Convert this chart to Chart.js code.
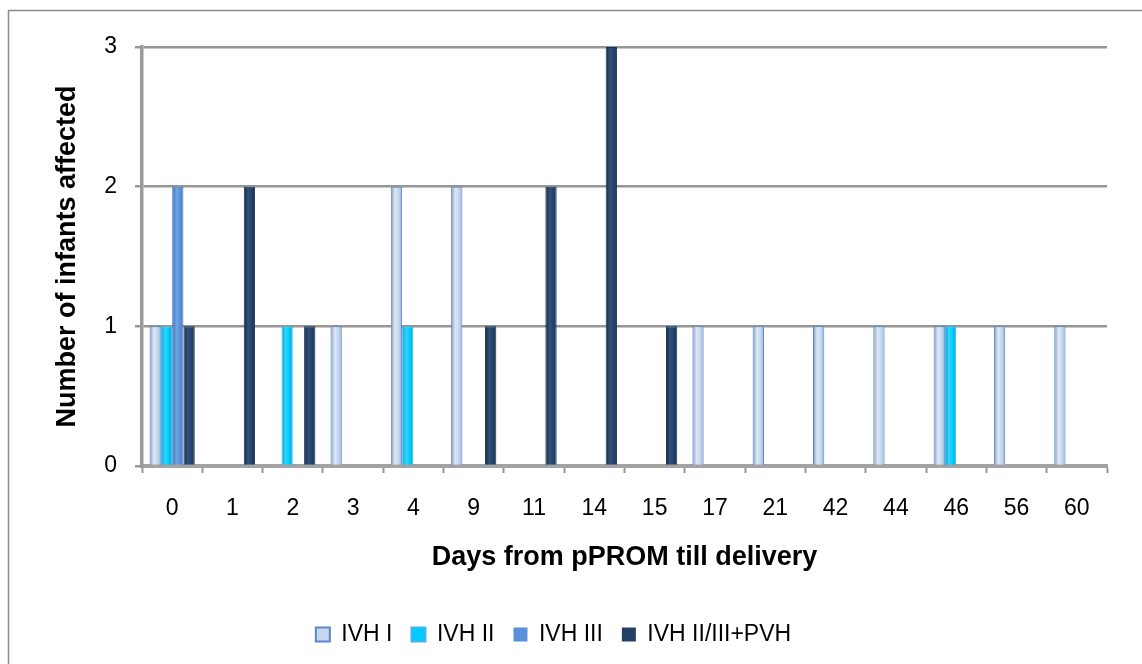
<!DOCTYPE html>
<html>
<head>
<meta charset="utf-8">
<script src="https://cdn.jsdelivr.net/npm/chart.js@4/dist/chart.umd.min.js"></script>
<style>
  html, body { margin: 0; padding: 0; background: #ffffff; }
  #wrap { width: 1142px; height: 664px; position: relative; }
</style>
</head>
<body>
<div id="wrap"><canvas id="c" width="1142" height="664"></canvas></div>
<script>
// Days from pPROM till delivery (category axis)
const days = ['0', '1', '2', '3', '4', '9', '11', '14', '15', '17', '21', '42', '44', '46', '56', '60'];

// Number of infants affected per IVH grade
const ivhI   = [1, 0, 0, 1, 2, 2, 0, 0, 0, 1, 1, 1, 1, 1, 1, 1];
const ivhII  = [1, 0, 1, 0, 1, 0, 0, 0, 0, 0, 0, 0, 0, 1, 0, 0];
const ivhIII = [2, 0, 0, 0, 0, 0, 0, 0, 0, 0, 0, 0, 0, 0, 0, 0];
const ivhPVH = [1, 2, 1, 0, 0, 1, 2, 3, 1, 0, 0, 0, 0, 0, 0, 0];

const seriesNames = ['IVH I', 'IVH II', 'IVH III', 'IVH II/III+PVH'];
const yTicks = [0, 1, 2, 3];

const FONT = "'Liberation Sans', Arial, Helvetica, sans-serif";
const CAT_PCT = 0.75;
const BAR_PCT = 1.0;

// Colour ramps for the cylinder-like shading: [edge, light, mid, edge]
const shades = [
  ['#7f98bc', '#dde8f6', '#c3d6ee', '#93acd0'],
  ['#0a9fd2', '#2ad8ff', '#00c8f6', '#00a4da'],
  ['#3a69ac', '#70a4e8', '#5a90da', '#4678be'],
  ['#14273f', '#30507c', '#25416a', '#1a3152']
];
const solid = ['#c6d8ef', '#00ccff', '#5a90da', '#243f66'];
const borders = ['#5a88cc', '#48b4ea', '#4a7cc2', '#1c3352'];

// Horizontal gradient across each bar, positioned from the x scale.
function barShade(idx) {
  return (ctx) => {
    const chart = ctx.chart;
    const xs = chart.scales && chart.scales.x;
    if (!xs || ctx.type !== 'data' || !isFinite(xs.left)) return solid[idx];
    const cat = (xs.right - xs.left) / days.length;
    const group = cat * CAT_PCT;
    const barW = group / seriesNames.length * BAR_PCT;
    const center = xs.getPixelForValue(ctx.dataIndex);
    const left = center - group / 2 + barW * idx;
    const g = chart.ctx.createLinearGradient(left, 0, left + barW, 0);
    const s = shades[idx];
    g.addColorStop(0, s[0]);
    g.addColorStop(0.38, s[1]);
    g.addColorStop(0.72, s[2]);
    g.addColorStop(1, s[3]);
    return g;
  };
}

const seriesValues = [ivhI, ivhII, ivhIII, ivhPVH];
const datasets = seriesNames.map((name, i) => ({
  label: name,
  data: seriesValues[i],
  backgroundColor: barShade(i),
  borderColor: borders[i],
  borderWidth: 1,
  borderSkipped: 'bottom',
  categoryPercentage: CAT_PCT,
  barPercentage: BAR_PCT
}));

// Outer frame around the chart
const framePlugin = {
  id: 'frame',
  beforeDraw(chart) {
    const c = chart.ctx;
    c.save();
    c.fillStyle = '#ffffff';
    c.fillRect(0, 0, chart.width, chart.height);
    c.strokeStyle = '#8c8c8c';
    c.lineWidth = 1.5;
    c.strokeRect(8.5, 10.5, chart.width + 20, chart.height + 20);
    c.restore();
  }
};

new Chart(document.getElementById('c'), {
  type: 'bar',
  data: { labels: days, datasets },
  plugins: [framePlugin],
  options: {
    responsive: false,
    animation: false,
    devicePixelRatio: 1,
    layout: { padding: { top: 47, left: 0, right: 35, bottom: 8 } },
    plugins: {
      tooltip: { enabled: false },
      title: { display: false },
      legend: {
        display: true,
        position: 'bottom',
        labels: {
          font: { family: FONT, size: 23 },
          color: '#000000',
          boxWidth: 14,
          boxHeight: 14,
          padding: 19,
          generateLabels(chart) {
            return chart.data.datasets.map((ds, i) => ({
              text: ds.label,
              fillStyle: solid[i],
              strokeStyle: i < 2 ? borders[i] : solid[i],
              lineWidth: i < 2 ? 2 : 0,
              hidden: false,
              datasetIndex: i
            }));
          }
        }
      }
    },
    scales: {
      x: {
        type: 'category',
        offset: true,
        afterFit(scale) { scale.height = 138; },
        grid: {
          offset: true,
          drawOnChartArea: false,
          drawTicks: true,
          tickLength: 7,
          tickWidth: 2,
          tickColor: '#969696'
        },
        border: { display: true, color: '#a3a3a3', width: 4 },
        ticks: {
          font: { family: FONT, size: 23 },
          color: '#000000',
          padding: 22,
          maxRotation: 0,
          autoSkip: false
        },
        title: {
          display: true,
          text: 'Days from pPROM till delivery',
          font: { family: FONT, size: 27, weight: 'bold' },
          color: '#000000',
          padding: { top: 0, bottom: 30 }
        }
      },
      y: {
        min: 0,
        max: 3,
        afterFit(scale) { scale.width = 142; },
        afterBuildTicks(scale) { scale.ticks = yTicks.map(v => ({ value: v })); },
        grid: {
          color: '#969696',
          lineWidth: 2.5,
          drawTicks: true,
          tickLength: 7,
          tickColor: '#969696'
        },
        border: { display: true, color: '#9a9a9a', width: 3.5 },
        ticks: {
          font: { family: FONT, size: 23 },
          color: '#000000',
          padding: 18
        },
        title: {
          display: true,
          text: 'Number of infants affected',
          font: { family: FONT, size: 27, weight: 'bold' },
          color: '#000000',
          padding: { top: 51, bottom: 0 }
        }
      }
    }
  }
});
</script>
</body>
</html>
